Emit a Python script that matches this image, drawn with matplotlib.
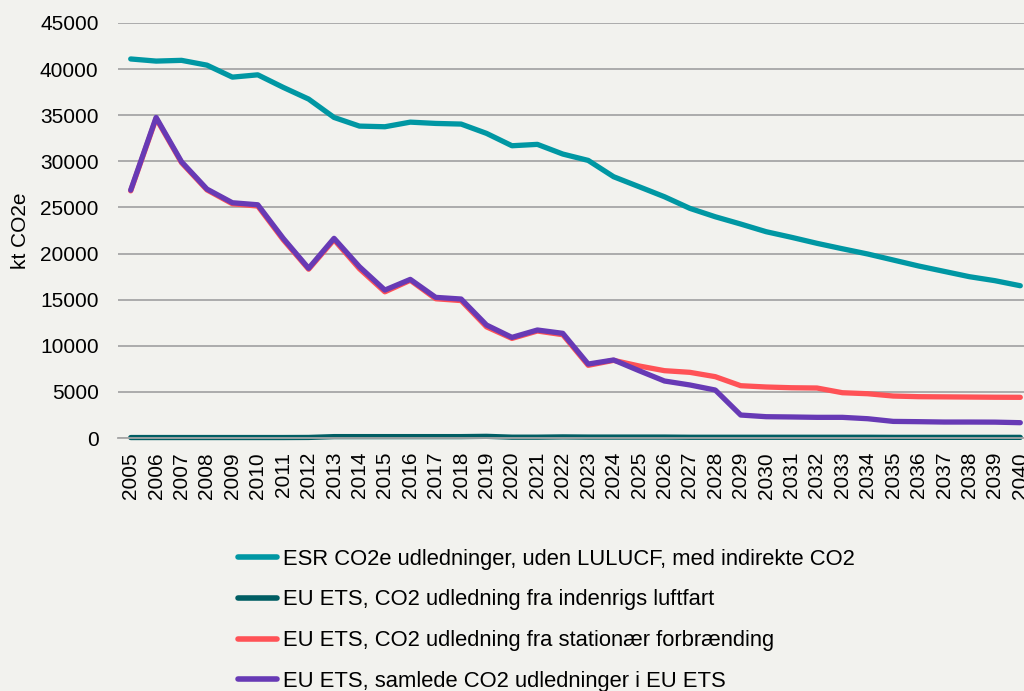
import numpy as np
import matplotlib.pyplot as plt

plt.rcParams['font.family'] = ['Liberation Sans', 'DejaVu Sans']

years = list(range(2005, 2041))

# ESR CO2e, uden LULUCF, med indirekte CO2
esr = [41100, 40870, 40950, 40430, 39130, 39380, 38020, 36750, 34760, 33820,
       33750, 34250, 34110, 34040, 33030, 31690, 31840, 30790, 30100, 28330,
       27250, 26160, 24900, 23990, 23200, 22370, 21760, 21110, 20520, 19950,
       19300, 18650, 18070, 17490, 17060, 16510]

# indenrigs luftfart
aviation = [50, 50, 50, 50, 50, 50, 50, 60, 150, 150,
            150, 150, 150, 150, 180, 90, 90, 120, 100, 100,
            100, 100, 80, 80, 80, 80, 80, 80, 80, 80,
            70, 70, 70, 70, 70, 70]

# stationaer forbraending
stationary = [26800, 34650, 29850, 26900, 25400, 25150, 21500, 18300, 21500, 18350,
              15850, 17100, 15100, 14900, 12050, 10800, 11600, 11200, 7880, 8420,
              7810, 7300, 7120, 6650, 5670, 5530, 5450, 5420, 4910, 4800,
              4550, 4480, 4460, 4440, 4420, 4410]

# samlede EU ETS
total_ets = [26880, 34760, 29950, 26990, 25510, 25290, 21650, 18400, 21650, 18570,
             16040, 17200, 15250, 15070, 12250, 10910, 11710, 11350, 8020, 8460,
             7300, 6180, 5750, 5200, 2490, 2310, 2280, 2240, 2240, 2090,
             1800, 1770, 1730, 1730, 1720, 1660]

labels = ["ESR CO2e udledninger, uden LULUCF, med indirekte CO2",
          "EU ETS, CO2 udledning fra indenrigs luftfart",
          "EU ETS, CO2 udledning fra stationær forbrænding",
          "EU ETS, samlede CO2 udledninger i EU ETS"]
colors = ["#0097A3", "#005E63", "#FF5256", "#673AB5"]

bg = "#F2F2EE"
fig = plt.figure(figsize=(10.24, 6.91), dpi=100, facecolor=bg)
ax = fig.add_axes([118/1024, 1 - 438/691, (1033-118)/1024, (438-23)/691])
ax.set_facecolor(bg)

x = np.arange(len(years))
series = [esr, aviation, stationary, total_ets]
handles = []
for s, c, lab in zip(series, colors, labels):
    h, = ax.plot(x, s, color=c, lw=3.8, solid_capstyle='round', label=lab, clip_on=False)
    handles.append(h)

ax.set_xlim(-0.5, len(years) - 0.5)
ax.set_ylim(0, 45000)
ax.set_yticks(range(0, 45001, 5000))
ax.set_xticks(x)
ax.set_xticklabels([str(y) for y in years], rotation=90, fontsize=15)
ax.tick_params(axis='y', labelsize=15, length=0, pad=14)
ax.tick_params(axis='x', length=0, pad=10)
ax.grid(axis='y', color='#A6A6A6', lw=1.3)
ax.set_axisbelow(True)
for sp in ['top', 'right', 'left']:
    ax.spines[sp].set_visible(False)
ax.spines['bottom'].set_color('#A6A6A6')
ax.spines['bottom'].set_linewidth(1.3)
ax.set_ylabel("kt CO2e", fontsize=15)
ax.yaxis.set_label_coords(-0.096, 0.5)

leg = fig.legend(handles=handles, labels=labels, loc='upper left',
                 bbox_to_anchor=(218/1024, 1 - 529/691), frameon=False,
                 fontsize=15.8, handlelength=1.8, handletextpad=0.25,
                 labelspacing=0.9)
for lh in leg.get_lines():
    lh.set_linewidth(4)

fig.savefig("out.png", dpi=100, facecolor=bg)
